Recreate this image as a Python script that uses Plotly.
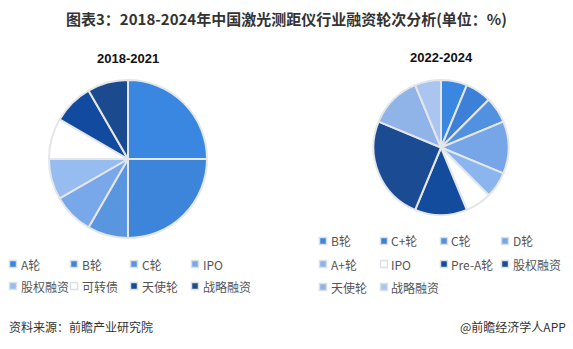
import plotly.graph_objects as go

W, H = 573, 349

# 2018-2021 financing rounds (share of events, %)
labels_a = ["A轮", "B轮", "C轮", "IPO", "股权融资", "可转债", "天使轮", "战略融资"]
values_a = [25.0, 25.0, 8.33, 8.33, 8.33, 8.33, 8.33, 8.33]
colors_a = ["#3a87e2", "#3d84db", "#5a95df", "#79a8ea", "#97bcef", "#ffffff", "#114a9e", "#1b4b8e"]

# 2022-2024 financing rounds (share of events, %)
labels_b = ["B轮", "C+轮", "C轮", "D轮", "A+轮", "IPO", "Pre-A轮", "股权融资", "天使轮", "战略融资"]
values_b = [6.25, 6.25, 6.25, 12.5, 6.25, 6.25, 12.5, 25.0, 12.5, 6.25]
colors_b = ["#3a87e2", "#3c80d8", "#5290e0", "#76a6e8", "#8bb5ee", "#ffffff", "#134b9d", "#1b4c93", "#90b3e8", "#a9c5f0"]

titles = ["2018-2021", "2022-2024"]

CJK = "Noto Sans CJK SC"


def px_x(x):
    return x / W


def px_y(y):
    return 1 - y / H


def pie_domain(cx, cy, r):
    return dict(x=[px_x(cx - r), px_x(cx + r)], y=[px_y(cy + r), px_y(cy - r)])


fig = go.Figure()
for labels, values, colors, dom in [
    (labels_a, values_a, colors_a, pie_domain(128, 159, 79)),
    (labels_b, values_b, colors_b, pie_domain(441, 147.5, 67.5)),
]:
    fig.add_trace(go.Pie(
        labels=labels, values=values, sort=False, direction="clockwise", rotation=0,
        marker=dict(colors=colors, line=dict(color="#e4e6ea", width=2)),
        textinfo="none", hoverinfo="label+percent", showlegend=False, domain=dom,
    ))

annotations = []
shapes = []

# chart title
annotations.append(dict(
    text="<b>图表3：2018-2024年中国激光测距仪行业融资轮次分析(单位：%)</b>",
    x=px_x(286), y=px_y(18), xref="paper", yref="paper", showarrow=False,
    xanchor="center", yanchor="middle", font=dict(family=CJK, size=15, color="#333333"),
))

# period titles above each pie
for t, cx, cy in [(titles[0], 128, 58), (titles[1], 441, 57)]:
    annotations.append(dict(
        text=f"<b>{t}</b>", x=px_x(cx), y=px_y(cy), xref="paper", yref="paper",
        showarrow=False, xanchor="center", yanchor="middle",
        font=dict(family="Liberation Sans", size=13, color="#111111"),
    ))


def legend(labels, colors, cols_x, rows_y):
    for i, (lab, col) in enumerate(zip(labels, colors)):
        mx = cols_x[i % 4]
        my = rows_y[i // 4]
        s = 3.5
        shapes.append(dict(
            type="rect", xref="paper", yref="paper",
            x0=px_x(mx - s), x1=px_x(mx + s), y0=px_y(my + s), y1=px_y(my - s),
            fillcolor=col, line=dict(color="#dcdfe4", width=1.5),
        ))
        annotations.append(dict(
            text=lab, x=px_x(mx + 5.5), y=px_y(my), xref="paper", yref="paper",
            showarrow=False, xanchor="left", yanchor="middle",
            font=dict(family=CJK, size=12, color="#555555"),
        ))


legend(labels_a, colors_a, [13, 74, 134, 195], [264, 286])
legend(labels_b, colors_b, [323, 384, 444, 505], [241, 264, 287])

# footer
annotations.append(dict(
    text="资料来源：前瞻产业研究院", x=px_x(7), y=px_y(326), xref="paper", yref="paper",
    showarrow=False, xanchor="left", yanchor="middle",
    font=dict(family=CJK, size=12, color="#333333"),
))
annotations.append(dict(
    text="@前瞻经济学人APP", x=px_x(568), y=px_y(326), xref="paper", yref="paper",
    showarrow=False, xanchor="right", yanchor="middle",
    font=dict(family=CJK, size=12, color="#333333"),
))

fig.update_layout(
    width=W, height=H, margin=dict(l=0, r=0, t=0, b=0),
    paper_bgcolor="#ffffff", plot_bgcolor="#ffffff",
    annotations=annotations, shapes=shapes,
)

fig.write_html("out.html")
